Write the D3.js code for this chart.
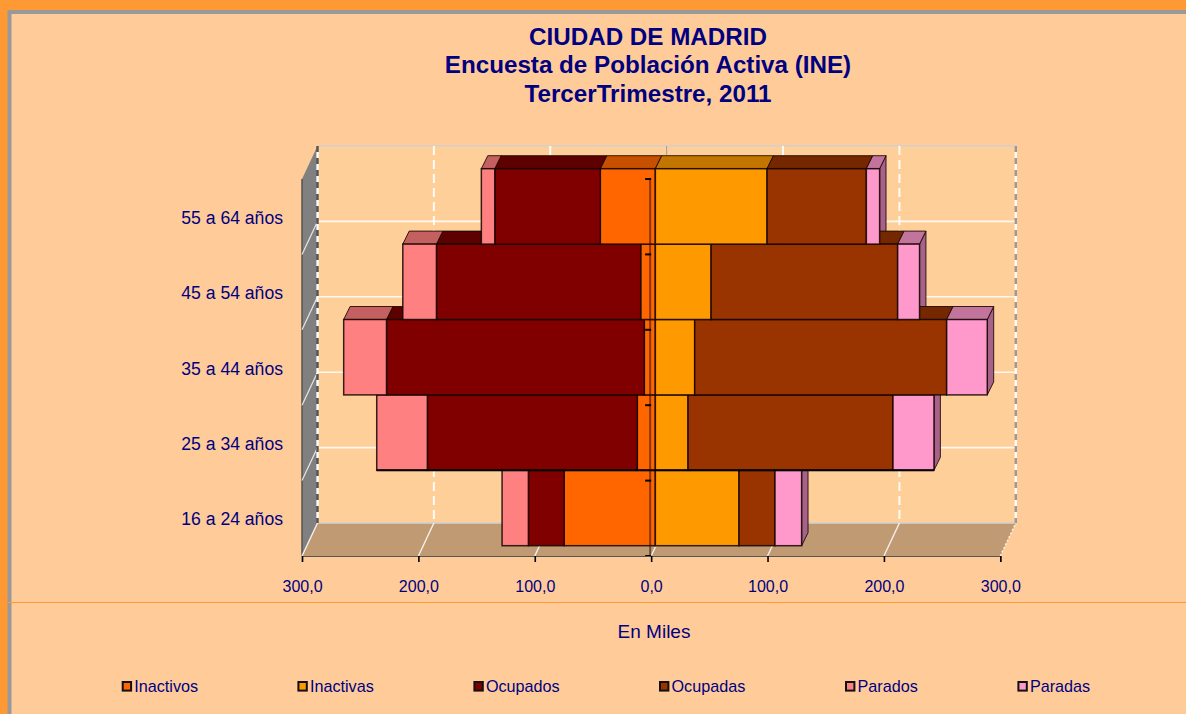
<!DOCTYPE html>
<html><head><meta charset="utf-8">
<script src="https://cdn.jsdelivr.net/npm/d3@7/dist/d3.min.js"></script>
<style>html,body{margin:0;padding:0;background:#FFCC99;overflow:hidden}svg{display:block}text{font-family:"Liberation Sans",Arial,sans-serif;fill:#000080}</style>
</head><body><svg id="c" width="1186" height="714"></svg>
<script>
const categories=["16 a 24 años","25 a 34 años","35 a 44 años","45 a 54 años","55 a 64 años"];
const inactivos=[78.4,15.5,9.5,12.6,47.3];
const ocupados=[30.7,180.4,221.5,175.5,90.7];
const parados=[22.6,43.5,36.8,28.9,11.5];
const inactivas=[71.9,28.1,33.8,47.9,96.0];
const ocupadas=[30.9,176.1,216.5,160.3,85.3];
const paradas=[22.9,35.2,34.9,18.8,11.4];
const xTicks=[-300,-200,-100,0,100,200,300];
const titleLines=["CIUDAD DE MADRID","Encuesta de Población Activa (INE)","TercerTrimestre, 2011"];
const legendNames=["Inactivos","Inactivas","Ocupados","Ocupadas","Parados","Paradas"];
const legendX=[121.7,297.4,473.4,659,845,1017.4];

const front=["#FF6600","#FF9900","#800000","#993300","#FF8080","#FF99CC"];
const topc=["#C75000","#C27600","#5C0000","#752700","#C46060","#C2749C"];
const sidec="#A8628A";
const svg=d3.select("#c");
const x=d3.scaleLinear().domain([-300,300]).range([302,1000.3]);
const y=d3.scaleBand().domain(categories).range([556,179]).padding(0);
const wall={dx:15.5,dy:-33}, plane={dx:4.2,dy:-10.3}, depth={dx:6.4,dy:-13};
const pts=a=>a.map(p=>p.join(",")).join(" ");
const xr=x(300), xl=x(-300), yb=y.range()[0], yt=y.range()[1];

// frame
svg.append("rect").attr("width",1186).attr("height",714).attr("fill","#FF9933");
svg.append("rect").attr("x",7.5).attr("y",10).attr("width",1179).attr("height",704).attr("fill","#999999");
svg.append("rect").attr("x",11.5).attr("y",14).attr("width",1175).attr("height",700).attr("fill","#FFCC99");
svg.append("rect").attr("x",7.5).attr("y",602).attr("width",1179).attr("height",1).attr("fill","#FF9933");

// walls
svg.append("rect").attr("x",xl+wall.dx).attr("y",yt+wall.dy).attr("width",xr-xl).attr("height",yb-yt).attr("fill","#FFCF99");
svg.append("polygon").attr("points",pts([[xl,yt],[xl+wall.dx,yt+wall.dy],[xl+wall.dx,yb+wall.dy],[xl,yb]])).attr("fill","#808080");
svg.append("line").attr("x1",xl).attr("x2",xl).attr("y1",yt).attr("y2",yb).attr("stroke","#555").attr("stroke-width",1.5);
svg.append("polygon").attr("points",pts([[xl,yb],[xl+wall.dx,yb+wall.dy],[xr+wall.dx,yb+wall.dy],[xr,yb]])).attr("fill","#C09A73");
svg.append("line").attr("x1",xl+wall.dx).attr("x2",xr+wall.dx).attr("y1",yb+wall.dy).attr("y2",yb+wall.dy).attr("stroke","#d0d0d0").attr("stroke-width",1.5);
svg.append("line").attr("x1",xl+wall.dx).attr("x2",xr+wall.dx).attr("y1",yt+wall.dy).attr("y2",yt+wall.dy).attr("stroke","#d0d0d0").attr("stroke-width",1.5);

// horizontal wall gridlines
categories.slice(0,4).forEach(c=>{
  const yy=y(c);
  svg.append("line").attr("x1",xl+wall.dx).attr("x2",xr+wall.dx).attr("y1",yy+wall.dy).attr("y2",yy+wall.dy).attr("stroke","#fff").attr("stroke-opacity",.85).attr("stroke-width",1.6);
  svg.append("line").attr("x1",xl).attr("x2",xl+wall.dx).attr("y1",yy).attr("y2",yy+wall.dy).attr("stroke","#fff").attr("stroke-opacity",.8).attr("stroke-width",1.2);
});
// vertical wall gridlines
xTicks.forEach(t=>{
  const gx=x(t)+wall.dx, edge=Math.abs(t)===300;
  if(edge) svg.append("line").attr("x1",gx).attr("x2",gx).attr("y1",yt+wall.dy).attr("y2",yb+wall.dy).attr("stroke",t<0?"#555":"#999").attr("stroke-width",2.4).attr("stroke-dasharray","6 6");
  if(edge) svg.append("line").attr("x1",gx).attr("x2",gx).attr("y1",yt+wall.dy).attr("y2",yb+wall.dy).attr("stroke","#fff").attr("stroke-width",2.2).attr("stroke-dasharray","6 6").attr("stroke-dashoffset",6);
  else svg.append("line").attr("x1",gx).attr("x2",gx).attr("y1",yt+wall.dy).attr("y2",yb+wall.dy).attr("stroke",t===0?"#999":"#fff").attr("stroke-opacity",.9).attr("stroke-width",t===0?1:2).attr("stroke-dasharray","9 5");
  svg.append("line").attr("x1",x(t)).attr("x2",gx).attr("y1",yb).attr("y2",yb+wall.dy).attr("stroke","#fff").attr("stroke-opacity",.85).attr("stroke-width",1.4).attr("stroke-dasharray",t===300?"2 2":null);
});

// bars
const men=[inactivos,ocupados,parados], women=[inactivas,ocupadas,paradas];
const segs=[];
categories.forEach((c,i)=>{
  let a=0,b=0;
  men.forEach((s,k)=>{segs.push({c,k:k*2,x0:-(a+s[i]),x1:-a,outerM:k===2});a+=s[i];});
  women.forEach((s,k)=>{segs.push({c,k:k*2+1,x0:b,x1:b+s[i],outerF:k===2});b+=s[i];});
});
const X=v=>x(v)+plane.dx;
const Y=v=>v+plane.dy;
const edge="rgba(20,5,0,.85)";
const marks=svg.append("g");
// side faces, then tops, then fronts: the upper band's front hides the top of the band below it
segs.filter(d=>d.outerF).forEach(d=>{
  const r=X(d.x1),t=Y(y(d.c)),b=t+y.bandwidth();
  marks.append("polygon").attr("points",pts([[r,t],[r+depth.dx,t+depth.dy],[r+depth.dx,b+depth.dy],[r,b]])).attr("fill",sidec).attr("stroke",edge).attr("stroke-width",1);
});
segs.forEach(d=>{
  const l=X(d.x0),r=X(d.x1),t=Y(y(d.c));
  marks.append("polygon").attr("points",pts([[l,t],[l+depth.dx,t+depth.dy],[r+depth.dx,t+depth.dy],[r,t]])).attr("fill",topc[d.k]).attr("stroke",edge).attr("stroke-width",1);
});
segs.forEach(d=>{
  const l=X(d.x0),r=X(d.x1),t=Y(y(d.c));
  marks.append("rect").attr("x",l).attr("y",t).attr("width",r-l).attr("height",y.bandwidth()).attr("fill",front[d.k]).attr("stroke",edge).attr("stroke-width",1.5);
});
// heavier lower edge of the second band
const lowerEdge=Y(y(categories[1])+y.bandwidth());
svg.append("line").attr("x1",X(-(inactivos[1]+ocupados[1]+parados[1]))).attr("x2",X(inactivas[1]+ocupadas[1]+paradas[1])).attr("y1",lowerEdge).attr("y2",lowerEdge).attr("stroke","#000").attr("stroke-width",2);

// central axis
svg.append("line").attr("x1",x(0)-1).attr("x2",x(0)-1).attr("y1",yt).attr("y2",yb).attr("stroke","rgba(40,15,0,.55)").attr("stroke-width",2);
categories.concat(["end"]).forEach(c=>{
  const yy=c==="end"?yt:y(c)+y.bandwidth();
  svg.append("line").attr("x1",x(0)-6).attr("x2",x(0)).attr("y1",yy).attr("y2",yy).attr("stroke","#000").attr("stroke-width",2);
});

// x axis
const fmt=d3.formatLocale({decimal:",",thousands:".",grouping:[3],currency:["","€"]}).format(".1f");
const ax=svg.append("g").attr("transform",`translate(0,${yb})`).call(d3.axisBottom(x).tickValues(xTicks).tickSize(6).tickPadding(19).tickFormat(d=>fmt(Math.abs(d))));
ax.select(".domain").attr("stroke","#555").attr("stroke-width",1.2);
ax.selectAll(".tick line").attr("stroke","#000").attr("stroke-width",1.6);
ax.selectAll("text").attr("font-size",16).attr("font-family",'"Liberation Sans",Arial,sans-serif').attr("fill","#000080");

// category axis
const ay=svg.append("g").attr("transform","translate(283,1.5)").call(d3.axisLeft(y).tickSize(0).tickPadding(0));
ay.select(".domain").remove();
ay.selectAll("text").attr("font-size",17.6).attr("font-family",'"Liberation Sans",Arial,sans-serif').attr("fill","#000080").attr("dy","0.32em");

// title
titleLines.forEach((s,i)=>svg.append("text").attr("x",648).attr("y",45+i*28.3).attr("text-anchor","middle").attr("font-size",24.2).attr("font-weight","bold").text(s));
svg.append("text").attr("x",654).attr("y",638).attr("text-anchor","middle").attr("font-size",19).text("En Miles");

// legend
legendNames.forEach((n,i)=>{
  svg.append("rect").attr("x",legendX[i]+1).attr("y",682).attr("width",8.4).attr("height",8.6).attr("fill",front[i]).attr("stroke","#111").attr("stroke-width",2);
  svg.append("text").attr("x",legendX[i]+12.5).attr("y",692).attr("font-size",16.2).text(n);
});
</script></body></html>
